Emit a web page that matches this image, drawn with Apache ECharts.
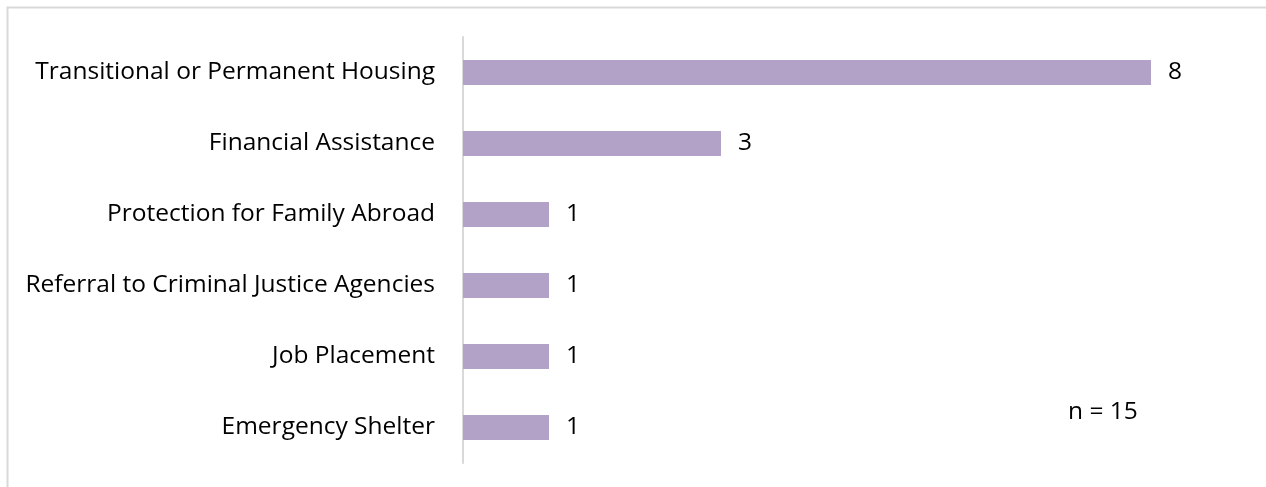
<!DOCTYPE html>
<html><head><meta charset="utf-8">
<script src="https://cdn.jsdelivr.net/npm/echarts@6/dist/echarts.min.js"></script>
<style>html,body{margin:0;padding:0;background:#fff}#c{width:1266px;height:487px}</style>
</head><body><div id="c"></div>
<script>
var categories = ["Transitional or Permanent Housing","Financial Assistance","Protection for Family Abroad","Referral to Criminal Justice Agencies","Job Placement","Emergency Shelter"];
var values = [8,3,1,1,1,1];
var noteText = "n = 15";
var FONT = "Open Sans";
var FS = 24.5;
var chart = echarts.init(document.getElementById('c'));
chart.setOption({
  animation:false,
  textStyle:{fontFamily:FONT},
  graphic:[
    {type:'rect',shape:{x:7.5,y:7.5,width:1300,height:600},style:{fill:null,stroke:'#d9d9d9',lineWidth:2},silent:true,z:-1},
    {type:'text',x:1068,y:412,style:{text:noteText,fontSize:FS,fontFamily:FONT,fill:'#000',textAlign:'left',textVerticalAlign:'middle',verticalAlign:'middle'}}
  ],
  grid:{left:463,right:115,top:37,height:426,containLabel:false},
  xAxis:{type:'value',min:0,max:8,show:false,splitLine:{show:false}},
  yAxis:{type:'category',inverse:true,data:categories,
    axisLine:{show:true,lineStyle:{color:'#d9d9d9',width:2}},
    axisTick:{show:false},
    axisLabel:{color:'#000',fontSize:FS,fontFamily:FONT,margin:28}},
  series:[{type:'bar',data:values,barWidth:25,
    itemStyle:{color:'#b3a2c7'},
    label:{show:true,position:'right',distance:17,color:'#000',fontSize:FS,fontFamily:FONT}}]
});
</script></body></html>
